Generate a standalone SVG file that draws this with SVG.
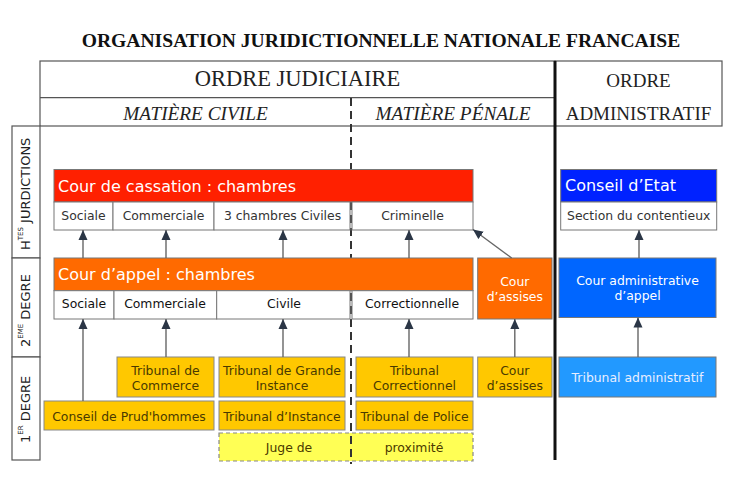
<svg xmlns="http://www.w3.org/2000/svg" width="735" height="487" viewBox="0 0 735 487">
<defs>
<marker id="ah" markerUnits="userSpaceOnUse" markerWidth="10" markerHeight="10" viewBox="0 0 10 10" refX="10" refY="5" orient="auto">
<path d="M0,0.5 L10,5 L0,9.5 z" fill="#2b3646"/>
</marker>
<style>
.title{font-family:"Liberation Serif",serif;font-weight:bold;font-size:19.6px;fill:#111;text-anchor:middle}
.hdr{font-family:"Liberation Serif",serif;font-size:22.5px;fill:#222;text-anchor:middle}
.mat{font-family:"Liberation Serif",serif;font-style:italic;font-size:19.3px;fill:#222;text-anchor:middle}
.adm{font-family:"Liberation Serif",serif;font-size:19px;fill:#222;text-anchor:middle}
.frame{fill:#fff;stroke:#555;stroke-width:1.2}
.lbl{font-family:"DejaVu Sans",sans-serif;font-size:13px;fill:#222}
.big{font-family:"DejaVu Sans",sans-serif;font-size:16px;fill:#fff}
.sm{font-family:"DejaVu Sans",sans-serif;font-size:12.4px;text-anchor:middle}
.sub{fill:#fff;stroke:#777;stroke-width:1}
.red{fill:#ff2000;stroke:#777;stroke-width:1}
.org{fill:#ff6a00;stroke:#777;stroke-width:1}
.yel{fill:#ffc800;stroke:#888;stroke-width:1}
.jug{fill:#ffff55;stroke:#888;stroke-width:1.2;stroke-dasharray:4 3}
.b1{fill:#0022ff;stroke:#777;stroke-width:1}
.b2{fill:#0066ff;stroke:#777;stroke-width:1}
.b3{fill:#2299ff;stroke:#777;stroke-width:1}
.dk{fill:#333}
.bk{fill:#111}
.br{fill:#4a3a00}
.wh{fill:#fff}
.lw{fill:#e8eeff}
.con line{stroke:#666;stroke-width:1.4;marker-end:url(#ah)}
</style>
</defs>

<text class="title" x="381" y="47">ORGANISATION JURIDICTIONNELLE NATIONALE FRANCAISE</text>

<!-- header frames -->
<g id="header">
<rect class="frame" x="40" y="61" width="515" height="65"/>
<line x1="40" y1="97.7" x2="555" y2="97.7" stroke="#555" stroke-width="1.2"/>
<rect class="frame" x="555" y="61" width="167" height="65"/>
<text class="hdr" x="297.5" y="86">ORDRE JUDICIAIRE</text>
<text class="mat" x="195.5" y="120">MATIÈRE CIVILE</text>
<text class="mat" x="453" y="120">MATIÈRE PÉNALE</text>
<text class="adm" x="638.5" y="87">ORDRE</text>
<text class="adm" x="638.5" y="120">ADMINISTRATIF</text>
</g>

<!-- left labels -->
<g id="labels">
<rect class="frame" x="12" y="126" width="28" height="132"/>
<rect class="frame" x="12" y="258" width="28" height="99"/>
<rect class="frame" x="12" y="357" width="28" height="103"/>
<text class="lbl" transform="translate(30,250) rotate(-90)">H<tspan font-size="7" dy="-7">TES</tspan><tspan dy="7"> JURDICTIONS</tspan></text>
<text class="lbl" transform="translate(30,347) rotate(-90)">2<tspan font-size="7" dy="-7">EME</tspan><tspan dy="7"> DEGRE</tspan></text>
<text class="lbl" transform="translate(30,443) rotate(-90)">1<tspan font-size="7" dy="-7">ER</tspan><tspan dy="7"> DEGRE</tspan></text>
</g>

<!-- separators -->
<g id="separators">
<line x1="351" y1="98" x2="351" y2="464" stroke="#333" stroke-width="2" stroke-dasharray="8 5"/>
<line x1="555" y1="61" x2="555" y2="460" stroke="#111" stroke-width="3"/>
</g>

<!-- Cour de cassation -->
<g id="cassation">
<rect class="red" x="54" y="169.5" width="419" height="32.5"/>
<text class="big" x="58" y="192">Cour de cassation : chambres</text>
<rect class="sub" x="54" y="202" width="59" height="28"/>
<rect class="sub" x="113" y="202" width="101" height="28"/>
<rect class="sub" x="214" y="202" width="136" height="28"/>
<rect class="sub" x="352" y="202" width="121" height="28"/>
<text class="sm dk" x="83.5" y="219.5" font-size="12.2">Sociale</text>
<text class="sm dk" x="163.5" y="219.5" font-size="12.2">Commerciale</text>
<text class="sm dk" x="282.5" y="219.5" font-size="12.2">3 chambres Civiles</text>
<text class="sm dk" x="412.5" y="219.5" font-size="12.2">Criminelle</text>
</g>

<!-- Conseil d'Etat -->
<g id="conseil-etat">
<rect class="b1" x="560.7" y="169.5" width="156" height="32.5"/>
<text class="big" x="565" y="191">Conseil d’Etat</text>
<rect class="sub" x="560.7" y="202" width="156" height="28"/>
<text class="sm dk" x="638.7" y="219.5">Section du contentieux</text>
</g>

<!-- Cour d'appel -->
<g id="cour-appel">
<rect class="org" x="54" y="258" width="419" height="32.7"/>
<text class="big" x="58" y="280">Cour d’appel : chambres</text>
<rect class="sub" x="54" y="290.7" width="60" height="28.3"/>
<rect class="sub" x="114" y="290.7" width="102.7" height="28.3"/>
<rect class="sub" x="216.7" y="290.7" width="133.3" height="28.3"/>
<rect class="sub" x="352" y="290.7" width="121" height="28.3"/>
<text class="sm bk" x="84" y="307.5" font-size="13">Sociale</text>
<text class="sm bk" x="165" y="307.5" font-size="13">Commerciale</text>
<text class="sm bk" x="284" y="307.5" font-size="13">Civile</text>
<text class="sm bk" x="412" y="307.5" font-size="13">Correctionnelle</text>
</g>

<g id="cour-assises-2">
<rect class="org" x="477.7" y="258" width="74.3" height="61"/>
<text class="sm wh" x="514.8" y="285.7">Cour</text>
<text class="sm wh" x="514.8" y="300.7">d’assises</text>
</g>

<g id="caa">
<rect class="b2" x="559" y="258" width="157" height="59.5"/>
<text class="sm wh" x="637.5" y="285">Cour administrative</text>
<text class="sm wh" x="637.5" y="300">d’appel</text>
</g>

<!-- 1er degre -->
<g id="tribunal-commerce">
<rect class="yel" x="117" y="357" width="97" height="40"/>
<text class="sm br" x="165.5" y="375">Tribunal de</text>
<text class="sm br" x="165.5" y="390">Commerce</text>
</g>
<g id="tgi">
<rect class="yel" x="219" y="357" width="126" height="40"/>
<text class="sm br" x="282" y="375">Tribunal de Grande</text>
<text class="sm br" x="282" y="390">Instance</text>
</g>
<g id="tribunal-correctionnel">
<rect class="yel" x="356" y="357" width="117" height="40"/>
<text class="sm br" x="414.5" y="375">Tribunal</text>
<text class="sm br" x="414.5" y="389.5">Correctionnel</text>
</g>
<g id="cour-assises-1">
<rect class="yel" x="477.7" y="357" width="74.3" height="40"/>
<text class="sm br" x="514.8" y="375">Cour</text>
<text class="sm br" x="514.8" y="390">d’assises</text>
</g>
<g id="tribunal-administratif">
<rect class="b3" x="559" y="357" width="157" height="40"/>
<text class="sm lw" x="637.5" y="381.5">Tribunal administratif</text>
</g>
<g id="prudhommes">
<rect class="yel" x="44" y="401" width="170" height="29"/>
<text class="sm br" x="129" y="421">Conseil de Prud'hommes</text>
</g>
<g id="tribunal-instance">
<rect class="yel" x="219" y="401" width="126" height="29"/>
<text class="sm br" x="282" y="421">Tribunal d’Instance</text>
</g>
<g id="tribunal-police">
<rect class="yel" x="356" y="401" width="117" height="29"/>
<text class="sm br" x="414.5" y="421">Tribunal de Police</text>
</g>
<g id="juge-proximite">
<rect class="jug" x="219" y="433" width="254" height="28"/>
<line x1="351" y1="433" x2="351" y2="464" stroke="#333" stroke-width="2" stroke-dasharray="8 5" stroke-dashoffset="-3"/>
<text class="sm br" x="289" y="451.7">Juge de</text>
<text class="sm br" x="414" y="451.7">proximité</text>
</g>

<!-- connectors -->
<g id="connectors" class="con">
<line x1="83" y1="258" x2="83" y2="230"/>
<line x1="166" y1="258" x2="166" y2="230"/>
<line x1="283" y1="258" x2="283" y2="230"/>
<line x1="409" y1="258" x2="409" y2="230"/>
<line x1="511.7" y1="258" x2="473" y2="229.5"/>
<line x1="639" y1="258" x2="639" y2="230"/>
<line x1="83" y1="401" x2="83" y2="319"/>
<line x1="166" y1="357" x2="166" y2="319"/>
<line x1="283" y1="357" x2="283" y2="319"/>
<line x1="409" y1="357" x2="409" y2="319"/>
<line x1="514.8" y1="357" x2="514.8" y2="319"/>
<line x1="638" y1="357" x2="638" y2="317.5"/>
</g>
</svg>
